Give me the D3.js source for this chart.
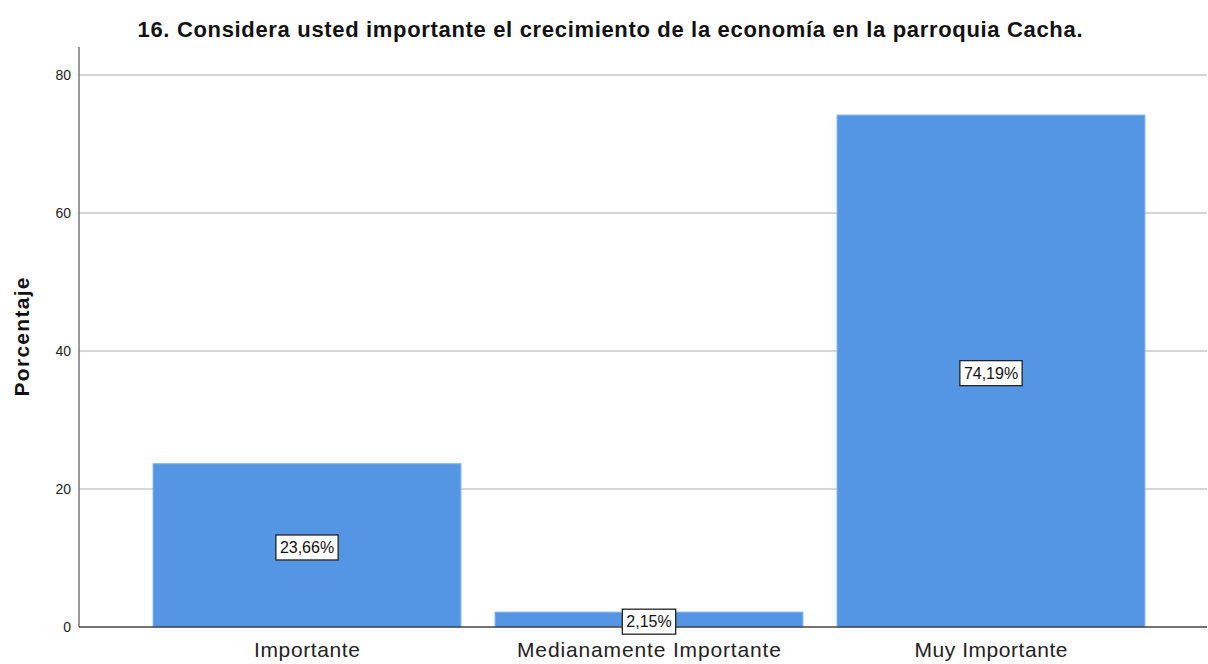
<!DOCTYPE html>
<html><head><meta charset="utf-8">
<script src="https://cdn.jsdelivr.net/npm/d3@7"></script>
<style>
body{margin:0;background:#fff;}
svg{display:block;font-family:"Liberation Sans",Arial,sans-serif;}
</style></head>
<body>
<svg id="c" width="1208" height="664"></svg>
<script>
const categories = ["Importante", "Medianamente Importante", "Muy Importante"];
const values = [23.66, 2.15, 74.19];
const valueLabels = ["23,66%", "2,15%", "74,19%"];
const yTicks = [0, 20, 40, 60, 80];
const title = "16. Considera usted importante el crecimiento de la economía en la parroquia Cacha.";
const yTitle = "Porcentaje";
const labelWidths = [106, 264, 153];

const svg = d3.select("#c");
const y = d3.scaleLinear().domain([0, 80]).range([627, 75]);
const x = d3.scaleBand().domain(categories).range([136, 1162]).paddingInner(0.1).paddingOuter(0.05);
const left = 79, right = 1207;

// gridlines
svg.append("g").selectAll("line").data(yTicks.filter(d => d > 0)).join("line")
  .attr("x1", left).attr("x2", right)
  .attr("y1", d => y(d)).attr("y2", d => y(d))
  .attr("stroke", "#c8c8c8").attr("stroke-width", 1.3);

// bars
svg.append("g").selectAll("rect").data(values).join("rect")
  .attr("x", (d, i) => x(categories[i]))
  .attr("width", x.bandwidth())
  .attr("y", d => y(d))
  .attr("height", d => y(0) - y(d))
  .attr("fill", "#5596e4")
  .attr("stroke", "#7aaeeb").attr("stroke-width", 1);

// y axis
const yAxis = d3.axisLeft(y).tickValues(yTicks).tickSize(0).tickPadding(8);
const ga = svg.append("g").attr("transform", `translate(${left},0)`).call(yAxis);
ga.select(".domain").remove();
ga.selectAll(".tick line").remove();
ga.selectAll("text").attr("font-size", 14).attr("fill", "#222").attr("font-family", "Liberation Sans, Arial, sans-serif");
svg.append("line").attr("x1", left).attr("x2", left).attr("y1", 47).attr("y2", y(0))
  .attr("stroke", "#777").attr("stroke-width", 1.5);

// x axis
const xAxis = d3.axisBottom(x).tickSize(0).tickPadding(15);
const gx = svg.append("g").attr("transform", `translate(0,${y(0)})`).call(xAxis);
gx.select(".domain").remove();
gx.selectAll("text").attr("font-size", 21).attr("fill", "#222").attr("font-family", "Liberation Sans, Arial, sans-serif")
  .attr("textLength", (d, i) => labelWidths[i]).attr("lengthAdjust", "spacing");
svg.append("line").attr("x1", left).attr("x2", right).attr("y1", y(0)).attr("y2", y(0))
  .attr("stroke", "#444").attr("stroke-width", 1.3);

// value labels
const lg = svg.append("g").selectAll("g").data(values).join("g")
  .attr("transform", (d, i) => `translate(${x(categories[i]) + x.bandwidth()/2},${y(d/2) + 2})`);
lg.append("text").text((d, i) => valueLabels[i])
  .attr("text-anchor", "middle").attr("dy", "0.35em")
  .attr("font-size", 16).attr("fill", "#111")
  .each(function() {
    const b = this.getBBox();
    d3.select(this.parentNode).insert("rect", "text")
      .attr("x", b.x - 4).attr("y", b.y - 4).attr("width", b.width + 8).attr("height", b.height + 8)
      .attr("fill", "#fff").attr("stroke", "#222").attr("stroke-width", 1.3);
  });

// titles
svg.append("text").attr("x", 610).attr("y", 37).attr("text-anchor", "middle")
  .attr("font-size", 22).attr("font-weight", "bold").attr("fill", "#111")
  .attr("textLength", 945).attr("lengthAdjust", "spacing").text(title);
svg.append("text").attr("transform", "translate(29,337) rotate(-90)").attr("text-anchor", "middle")
  .attr("font-size", 21).attr("font-weight", "bold").attr("fill", "#111")
  .attr("textLength", 119).attr("lengthAdjust", "spacing").text(yTitle);
</script>
</body></html>
